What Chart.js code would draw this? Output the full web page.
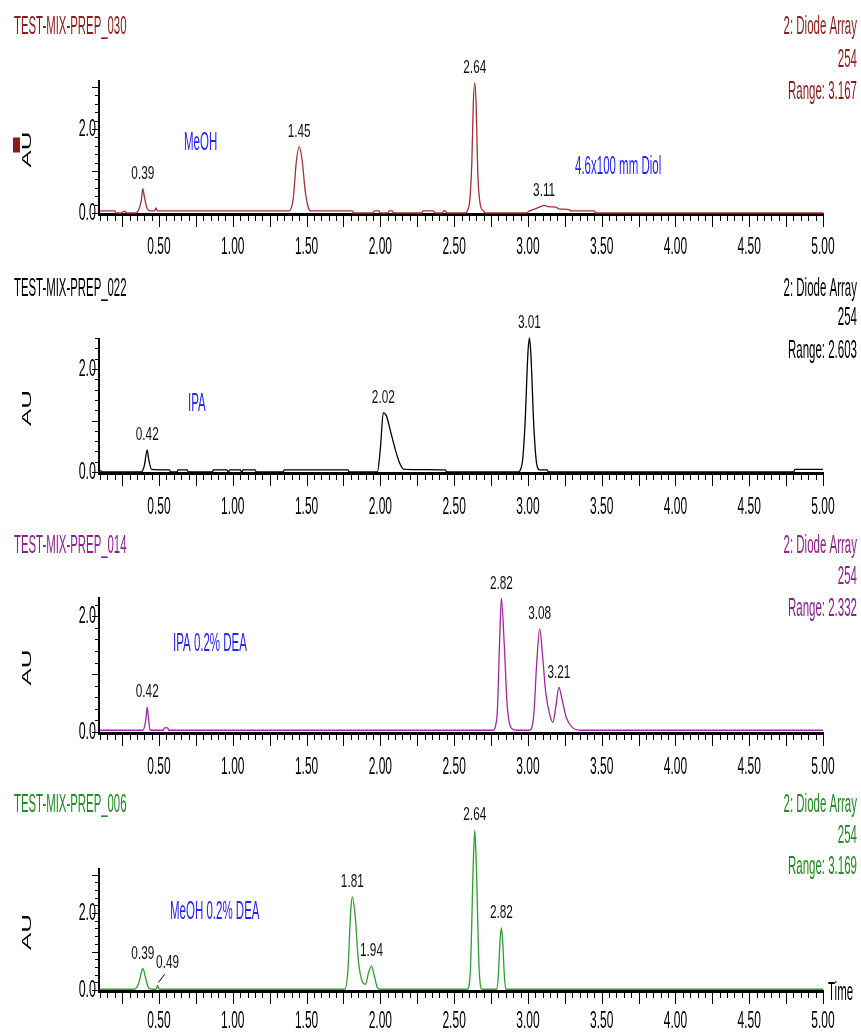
<!DOCTYPE html>
<html>
<head>
<meta charset="utf-8">
<title>Diol column modifier comparison</title>
<script src="https://cdn.jsdelivr.net/npm/chart.js@4.4.1/dist/chart.umd.min.js"></script>
<style>
  html, body { margin: 0; padding: 0; background: #fff; }
  #stack { position: relative; width: 861px; height: 1033px; overflow: hidden; background: #fff; }
  #stack canvas { position: absolute; left: 0; top: 0; }
</style>
</head>
<body>
<div id="stack">
  <canvas id="c030" width="861" height="1033"></canvas>
  <canvas id="c022" width="861" height="1033"></canvas>
  <canvas id="c014" width="861" height="1033"></canvas>
  <canvas id="c006" width="861" height="1033"></canvas>
</div>
<script>
// ---- axis labels ----
const timeTickLabels = ['0.50', '1.00', '1.50', '2.00', '2.50', '3.00', '3.50', '4.00', '4.50', '5.00'];
const auTickLabels = ['0.0', '2.0'];

// ---- run 030 : MeOH ----
const range030 = 3.167;
const peaks030 = ['0.39', '1.45', '2.64', '3.11'];
const run030 = [
  [0.10, 0.05], [0.20, 0.05], [0.21, 0.00], [0.25, 0.00], [0.26, 0.04], [0.27, 0.04], [0.28, 0.00],
  [0.34, 0.00], [0.36, 0.06], [0.38, 0.30], [0.39, 0.58], [0.40, 0.40], [0.42, 0.10], [0.44, 0.05],
  [0.47, 0.05], [0.48, 0.12], [0.49, 0.05], [1.38, 0.05], [1.41, 0.35], [1.43, 1.20], [1.45, 1.58],
  [1.47, 1.25], [1.49, 0.55], [1.51, 0.15], [1.53, 0.05], [1.81, 0.05], [1.82, 0.00], [1.95, 0.00],
  [1.96, 0.05], [1.99, 0.05], [2.00, 0.00], [2.05, 0.00], [2.06, 0.05], [2.08, 0.05], [2.09, 0.00],
  [2.28, 0.00], [2.29, 0.05], [2.36, 0.05], [2.37, 0.00], [2.42, 0.00], [2.43, 0.05], [2.44, 0.05],
  [2.45, 0.00], [2.57, 0.00], [2.60, 0.15], [2.62, 1.20], [2.63, 2.60], [2.64, 3.10], [2.65, 2.50],
  [2.66, 1.00], [2.68, 0.15], [2.70, 0.05], [2.71, 0.00], [2.99, 0.00], [3.01, 0.05], [3.05, 0.10],
  [3.09, 0.16], [3.11, 0.18], [3.14, 0.15], [3.19, 0.14], [3.21, 0.10], [3.28, 0.08], [3.29, 0.05],
  [3.45, 0.05], [3.46, 0.00], [5.00, 0.00]
];

// ---- run 022 : IPA ----
const range022 = 2.603;
const peaks022 = ['0.42', '2.02', '3.01'];
const run022 = [
  [0.10, 0.03], [0.12, 0.00], [0.38, 0.00], [0.40, 0.12], [0.42, 0.43], [0.43, 0.25], [0.45, 0.05],
  [0.57, 0.04], [0.58, 0.00], [0.62, 0.00], [0.63, 0.04], [0.69, 0.04], [0.70, 0.00], [0.86, 0.00],
  [0.87, 0.04], [0.96, 0.04], [0.97, 0.00], [0.98, 0.04], [1.05, 0.04], [1.06, 0.00], [1.07, 0.04],
  [1.15, 0.04], [1.16, 0.00], [1.34, 0.00], [1.35, 0.04], [1.78, 0.04], [1.79, 0.00], [1.98, 0.00],
  [2.00, 0.45], [2.02, 1.15], [2.04, 1.10], [2.07, 0.78], [2.10, 0.45], [2.13, 0.18], [2.16, 0.05],
  [2.44, 0.04], [2.45, 0.00], [2.93, 0.00], [2.96, 0.15], [2.98, 0.90], [3.00, 2.30], [3.01, 2.60],
  [3.02, 2.30], [3.04, 0.90], [3.06, 0.15], [3.08, 0.04], [3.13, 0.04], [3.14, 0.00], [4.80, 0.00],
  [4.81, 0.05], [5.00, 0.05]
];

// ---- run 014 : IPA 0.2% DEA ----
const range014 = 2.332;
const peaks014 = ['0.42', '2.82', '3.08', '3.21'];
const run014 = [
  [0.10, 0.03], [0.39, 0.03], [0.41, 0.20], [0.42, 0.43], [0.43, 0.20], [0.44, 0.03], [0.53, 0.03],
  [0.535, 0.07], [0.56, 0.07], [0.565, 0.03], [2.76, 0.03], [2.79, 0.25], [2.81, 1.70], [2.82, 2.31],
  [2.84, 1.50], [2.86, 0.45], [2.89, 0.06], [2.93, 0.03], [3.01, 0.03], [3.04, 0.30], [3.06, 1.20],
  [3.08, 1.78], [3.10, 1.30], [3.12, 0.70], [3.15, 0.28], [3.17, 0.17], [3.19, 0.45], [3.21, 0.77],
  [3.23, 0.58], [3.26, 0.25], [3.30, 0.08], [3.36, 0.03], [5.00, 0.03]
];

// ---- run 006 : MeOH 0.2% DEA ----
const range006 = 3.169;
const peaks006 = ['0.39', '0.49', '1.81', '1.94', '2.64', '2.82'];
const run006 = [
  [0.10, 0.02], [0.33, 0.02], [0.36, 0.15], [0.38, 0.45], [0.39, 0.56], [0.41, 0.30], [0.43, 0.05],
  [0.45, 0.02], [0.48, 0.02], [0.49, 0.12], [0.50, 0.02], [1.76, 0.02], [1.78, 0.50], [1.80, 2.10],
  [1.81, 2.42], [1.83, 1.90], [1.85, 0.80], [1.88, 0.20], [1.90, 0.15], [1.92, 0.45], [1.94, 0.62],
  [1.96, 0.35], [1.98, 0.06], [2.00, 0.02], [2.59, 0.02], [2.61, 0.50], [2.63, 3.30], [2.64, 4.15],
  [2.65, 3.30], [2.67, 0.50], [2.69, 0.02], [2.79, 0.02], [2.80, 0.40], [2.81, 1.20], [2.82, 1.62],
  [2.83, 1.20], [2.84, 0.40], [2.85, 0.02], [5.00, 0.02]
];

// ---- drawing helpers ----
const FONT = '"Liberation Sans", Arial, sans-serif';
const NOTE_BLUE = '#2323ff';

// Condensed, tall lettering: horizontal squeeze applied around the anchor point.
function drawText(ctx, s, x, y, o) {
  ctx.save();
  ctx.translate(x, y);
  if (o.rot) ctx.rotate(o.rot);
  ctx.scale(o.sx, o.sy || 1);
  ctx.font = o.size + 'px ' + FONT;
  ctx.fillStyle = o.color;
  ctx.textAlign = o.align || 'left';
  ctx.textBaseline = 'middle';
  ctx.fillText(s, 0, 0);
  ctx.restore();
}

function seg(ctx, x1, y1, x2, y2) {
  ctx.beginPath();
  ctx.moveTo(x1, y1);
  ctx.lineTo(x2, y2);
  ctx.stroke();
}

// Axes with major/minor tick marks placed through the chart's own scales
const axesPlugin = {
  id: 'chromAxes',
  beforeDatasetsDraw(chart, args, opts) {
    const { ctx, chartArea: a, scales: { x, y } } = chart;
    ctx.save();
    ctx.strokeStyle = '#000';
    // vertical AU axis
    ctx.lineWidth = 2;
    seg(ctx, a.left - 1, a.top, a.left - 1, a.bottom + 2);
    ctx.lineWidth = 1;
    for (let i = 0; i * 0.2 <= y.max + 1e-9; i++) {
      const py = Math.round(y.getPixelForValue(i * 0.2)) + 0.5;
      const len = (i % 5 === 0) ? 7 : 4;
      seg(ctx, a.left - 1 - len, py, a.left - 1, py);
    }
    // time axis
    ctx.lineWidth = 3;
    seg(ctx, a.left - 2, a.bottom + 1.5, a.right + 1, a.bottom + 1.5);
    ctx.lineWidth = 1;
    for (let k = 2; k <= 100; k++) {
      const px = Math.round(x.getPixelForValue(k * 0.05)) + 0.5;
      const len = (k % 5 === 0) ? 12 : 6;
      seg(ctx, px, a.bottom + 2, px, a.bottom + 2 + len);
    }
    ctx.restore();
  },
  afterDraw(chart, args, opts) {
    const { ctx, chartArea: a, scales: { x, y } } = chart;
    const p = opts.panel;
    // time labels
    timeTickLabels.forEach(lbl => {
      drawText(ctx, lbl, x.getPixelForValue(parseFloat(lbl)), a.bottom + p.xLabelDy,
        { size: 24, sx: 0.5, color: '#000', align: 'center' });
    });
    // AU labels
    auTickLabels.forEach(lbl => {
      drawText(ctx, lbl, a.left - 4, y.getPixelForValue(parseFloat(lbl)),
        { size: 24, sx: 0.52, color: '#000', align: 'right' });
    });
    // AU axis title
    drawText(ctx, 'AU', 27, (a.top + a.bottom) / 2 + 3,
      { size: 13, sx: 2.0, color: '#000', align: 'center', rot: -Math.PI / 2 });
    if (p.marker) {
      ctx.fillStyle = p.textColor;
      ctx.fillRect(13, (a.top + a.bottom) / 2 - 9, 7, 15);
    }
    // run name and detector info
    drawText(ctx, p.title, 14, p.titleY, { size: 25, sx: 0.455, color: p.textColor });
    p.info.forEach((s, i) => {
      drawText(ctx, s, 857, p.infoY[i], { size: 25, sx: 0.46, color: p.textColor, align: 'right' });
    });
    // solvent notes
    p.notes.forEach(n => {
      drawText(ctx, n.text, n.x, n.y, { size: 25, sx: 0.46, color: NOTE_BLUE });
    });
    // retention time labels at each apex
    p.peaks.forEach(lbl => {
      const t = parseFloat(lbl);
      const pt = p.trace.find(d => Math.abs(d[0] - t) < 1e-6);
      const px = x.getPixelForValue(t);
      const py = y.getPixelForValue(pt[1]);
      const shift = (p.labelShift && p.labelShift[lbl]) || 0;
      if (shift) {
        ctx.save();
        ctx.strokeStyle = '#000';
        ctx.lineWidth = 1;
        seg(ctx, px + 1, py - 3, px + shift - 3, py - 11);
        ctx.restore();
        drawText(ctx, lbl, px + shift, py - 17 - (p.labelLift || 0),
          { size: 19, sx: 0.62, color: '#111', align: 'center' });
      } else {
        drawText(ctx, lbl, px, py - 15, { size: 19, sx: 0.62, color: '#111', align: 'center' });
      }
    });
    if (p.timeLabel) {
      drawText(ctx, 'Time', 828, a.bottom + 3, { size: 25, sx: 0.46, color: '#000' });
    }
  }
};

const panels = [
  {
    id: 'c030', trace: run030, peaks: peaks030, yMax: range030,
    title: 'TEST-MIX-PREP_030', info: ['2: Diode Array', '254', 'Range: ' + range030.toFixed(3)],
    lineColor: '#a53030', textColor: '#8e1b1b',
    plotTop: 80, plotBottom: 213, titleY: 27, infoY: [27, 60, 92], xLabelDy: 34,
    marker: true,
    notes: [{ text: 'MeOH', x: 184, y: 143 }, { text: '4.6x100 mm Diol', x: 575, y: 167 }]
  },
  {
    id: 'c022', trace: run022, peaks: peaks022, yMax: range022,
    title: 'TEST-MIX-PREP_022', info: ['2: Diode Array', '254', 'Range: ' + range022.toFixed(3)],
    lineColor: '#000000', textColor: '#000000',
    plotTop: 338, plotBottom: 472, titleY: 289, infoY: [289, 318, 351], xLabelDy: 35,
    notes: [{ text: 'IPA', x: 188, y: 404 }]
  },
  {
    id: 'c014', trace: run014, peaks: peaks014, yMax: range014,
    title: 'TEST-MIX-PREP_014', info: ['2: Diode Array', '254', 'Range: ' + range014.toFixed(3)],
    lineColor: '#a126a1', textColor: '#901f90',
    plotTop: 597, plotBottom: 732, titleY: 546, infoY: [546, 577, 609], xLabelDy: 35,
    notes: [{ text: 'IPA 0.2% DEA', x: 173, y: 644 }]
  },
  {
    id: 'c006', trace: run006, peaks: peaks006, yMax: range006,
    title: 'TEST-MIX-PREP_006', info: ['2: Diode Array', '254', 'Range: ' + range006.toFixed(3)],
    lineColor: '#2e9e2e', textColor: '#1f8f1f',
    plotTop: 868, plotBottom: 990, titleY: 805, infoY: [805, 836, 867], xLabelDy: 31,
    timeLabel: true, labelShift: { '0.49': 10 }, labelLift: 6,
    notes: [{ text: 'MeOH 0.2% DEA', x: 170, y: 912 }]
  }
];

panels.forEach(p => {
  new Chart(document.getElementById(p.id), {
    type: 'line',
    data: {
      datasets: [{
        data: p.trace.map(d => ({ x: d[0], y: d[1] })),
        borderColor: p.lineColor,
        borderWidth: 1.3,
        pointRadius: 0,
        fill: false,
        clip: false,
        cubicInterpolationMode: 'monotone'
      }]
    },
    options: {
      responsive: false,
      animation: false,
      devicePixelRatio: 1,
      events: [],
      layout: { padding: { left: 100, right: 38, top: p.plotTop, bottom: 1033 - p.plotBottom } },
      plugins: { legend: { display: false }, tooltip: { enabled: false }, chromAxes: { panel: p } },
      scales: {
        x: { type: 'linear', min: 0.1, max: 5.0, display: false },
        y: { type: 'linear', min: 0, max: p.yMax, display: false }
      }
    },
    plugins: [axesPlugin]
  });
});
</script>
</body>
</html>
